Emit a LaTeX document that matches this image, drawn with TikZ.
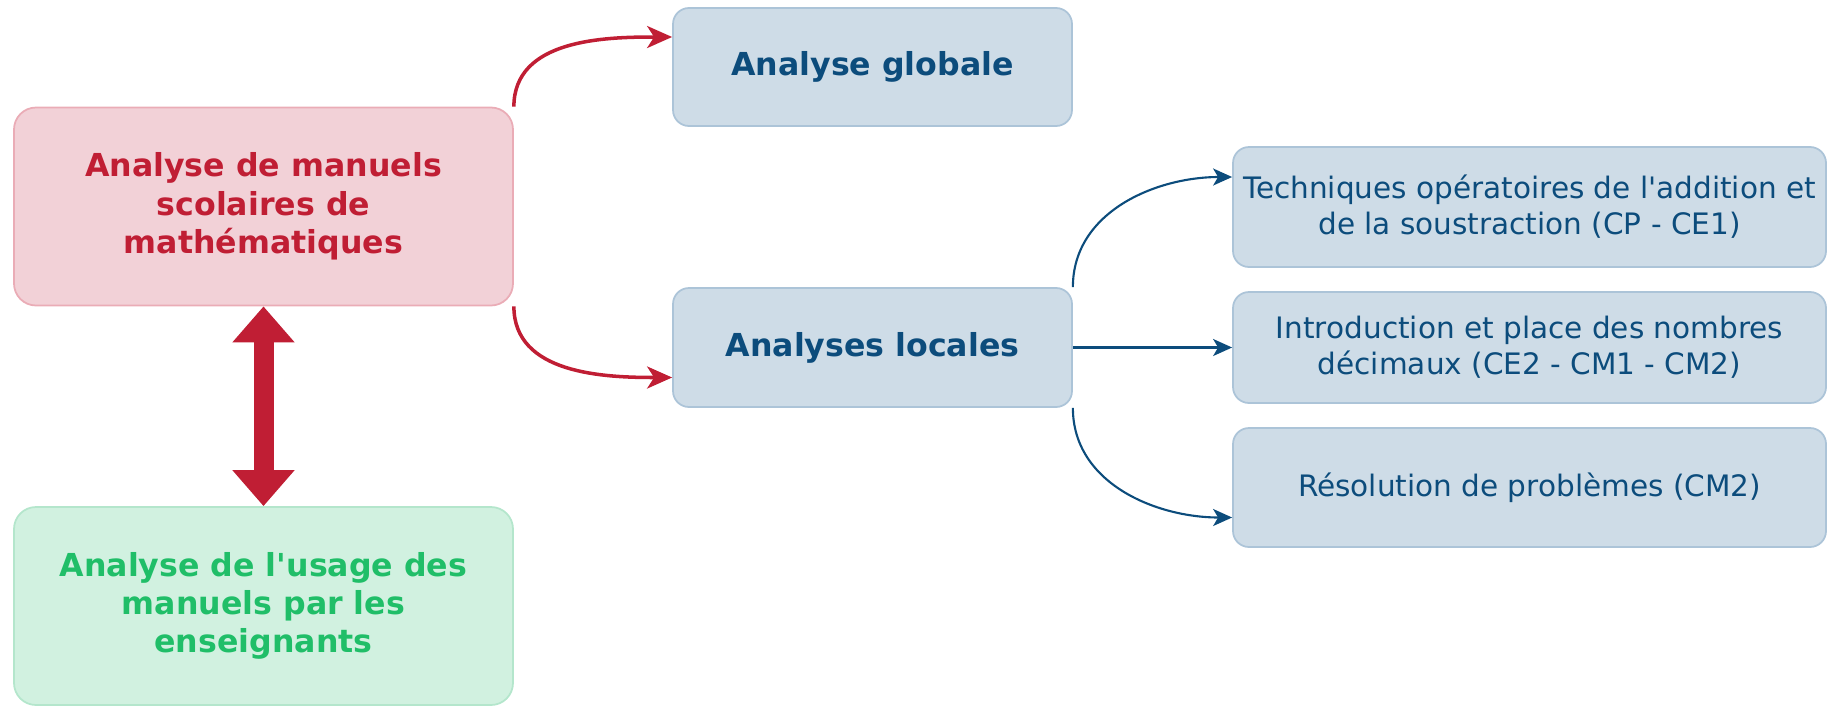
\documentclass[tikz,border=0pt]{standalone}
\usepackage{fontspec}
\setmainfont{DejaVu Sans}[Ligatures=TeXOff]
\usetikzlibrary{arrows.meta,positioning}

\definecolor{manRed}{RGB}{192,30,52}
\definecolor{manPink}{RGB}{242,209,215}
\definecolor{manPinkLine}{RGB}{234,172,182}
\definecolor{useGreen}{RGB}{32,190,104}
\definecolor{useFill}{RGB}{209,241,224}
\definecolor{useLine}{RGB}{180,230,204}
\definecolor{anaBlue}{RGB}{12,76,124}
\definecolor{anaFill}{RGB}{206,220,231}
\definecolor{anaLine}{RGB}{172,196,216}

\tikzset{
  bigbox/.style={rounded corners=0.22cm, line width=0.5pt, align=center, inner sep=0pt,
                 minimum width=4.99cm, minimum height=1.98cm,
                 font=\fontsize{9}{10.9}\selectfont\bfseries},
  anabox/.style={rounded corners=0.16cm, line width=0.5pt, draw=anaLine, fill=anaFill,
                 text=anaBlue, align=center, inner sep=0pt, minimum width=3.99cm},
  subbox/.style={anabox, minimum width=5.93cm, font=\fontsize{8.4}{10.2}\selectfont},
  redarrow/.style={manRed, line width=1pt, -{Stealth[length=0.25cm, width=0.22cm, inset=0.07cm]}},
  bluearrow/.style={anaBlue, line width=0.6pt, -{Stealth[length=0.19cm, width=0.17cm, inset=0.05cm]}}
}

\begin{document}
\begin{tikzpicture}

\useasboundingbox (0,0) rectangle (18.27,7.06);

% Left column
\node[bigbox, draw=manPinkLine, fill=manPink, text=manRed] (manuels) at (2.635,4.995)
      {Analyse de manuels\\scolaires de\\mathématiques};
\node[bigbox, draw=useLine, fill=useFill, text=useGreen] (usage) at (2.635,1.0)
      {Analyse de l'usage des\\manuels par les\\enseignants};

% Analyses
\node[anabox, minimum height=1.18cm, font=\fontsize{9}{10.9}\selectfont\bfseries] (globale) at (8.725,6.39) {Analyse globale};
\node[anabox, minimum height=1.19cm, font=\fontsize{9}{10.9}\selectfont\bfseries] (locales) at (8.725,3.585) {Analyses locales};

% Topics
\node[subbox, minimum height=1.20cm] (tech) at (15.295,4.99)
      {Techniques opératoires de l'addition et\\de la soustraction (CP - CE1)};
\node[subbox, minimum height=1.11cm] (intro) at (15.295,3.585)
      {Introduction et place des nombres\\décimaux (CE2 - CM1 - CM2)};
\node[subbox, minimum height=1.19cm] (res) at (15.295,2.185)
      {Résolution de problèmes (CM2)};

% Connections
\draw[manRed, line width=0.2cm, {Triangle[length=0.36cm, width=0.6cm]}-{Triangle[length=0.36cm, width=0.6cm]}]
      (manuels.south) -- (usage.north);

\draw[redarrow] (manuels.north east) to[out=90, in=180] ([yshift=0.3cm]globale.west);
\draw[redarrow] (manuels.south east) to[out=-90, in=180] ([yshift=-0.3cm]locales.west);

\draw[bluearrow] (locales.north east) to[out=90, in=180] ([yshift=0.3cm]tech.west);
\draw[bluearrow] (locales.east) -- (intro.west);
\draw[bluearrow] (locales.south east) to[out=-90, in=180] ([yshift=-0.3cm]res.west);

\end{tikzpicture}
\end{document}
